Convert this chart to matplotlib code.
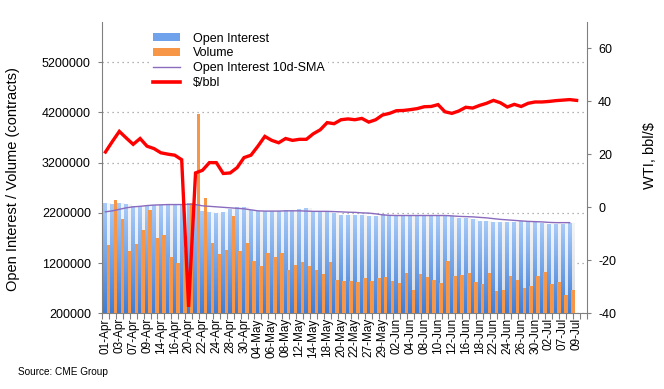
import numpy as np
import matplotlib
matplotlib.use("Agg")
import matplotlib.pyplot as plt
from matplotlib.patches import Patch
from matplotlib.lines import Line2D
from matplotlib.colors import LinearSegmentedColormap

plt.rcParams['font.family'] = ['Liberation Sans', 'DejaVu Sans']

dates = ["01-Apr", "02-Apr", "03-Apr", "06-Apr", "07-Apr", "08-Apr", "09-Apr", "13-Apr", "14-Apr", "15-Apr",
         "16-Apr", "17-Apr", "20-Apr", "21-Apr", "22-Apr", "23-Apr", "24-Apr", "27-Apr", "28-Apr", "29-Apr",
         "30-Apr", "01-May", "04-May", "05-May", "06-May", "07-May", "08-May", "11-May", "12-May", "13-May",
         "14-May", "15-May", "18-May", "19-May", "20-May", "21-May", "22-May", "26-May", "27-May", "28-May",
         "29-May", "01-Jun", "02-Jun", "03-Jun", "04-Jun", "05-Jun", "08-Jun", "09-Jun", "10-Jun", "11-Jun",
         "12-Jun", "15-Jun", "16-Jun", "17-Jun", "18-Jun", "19-Jun", "22-Jun", "23-Jun", "24-Jun", "25-Jun",
         "26-Jun", "29-Jun", "30-Jun", "01-Jul", "02-Jul", "06-Jul", "07-Jul", "08-Jul", "09-Jul", "10-Jul"]

open_interest = [2380000, 2370000, 2380000, 2370000, 2330000, 2330000, 2340000, 2350000, 2350000, 2350000,
                 2350000, 2350000, 2380000, 2360000, 2220000, 2200000, 2190000, 2200000, 2270000, 2300000,
                 2300000, 2250000, 2230000, 2230000, 2230000, 2230000, 2250000, 2250000, 2270000, 2280000,
                 2230000, 2230000, 2210000, 2180000, 2150000, 2150000, 2150000, 2150000, 2130000, 2130000,
                 2160000, 2130000, 2130000, 2130000, 2130000, 2130000, 2130000, 2130000, 2130000, 2130000,
                 2130000, 2080000, 2080000, 2070000, 2030000, 2030000, 2010000, 2010000, 2010000, 2010000,
                 2030000, 2010000, 2010000, 1990000, 1970000, 1970000, 1970000, 1990000]

volume = [1567000, 2447000, 2087000, 1447000, 1587000, 1867000, 2247000, 1707000, 1767000, 1327000,
          1193000, 1467000, 2400000, 4160000, 2487000, 1607000, 1387000, 1467000, 2147000, 1447000,
          1607000, 1247000, 1147000, 1407000, 1327000, 1407000, 1067000, 1167000, 1227000, 1147000,
          1067000, 987000, 1227000, 867000, 847000, 847000, 827000, 907000, 847000, 907000,
          927000, 847000, 807000, 1007000, 667000, 987000, 927000, 867000, 807000, 1247000,
          947000, 967000, 1007000, 827000, 787000, 1007000, 647000, 667000, 947000, 867000,
          707000, 747000, 947000, 1027000, 787000, 827000, 567000, 667000]

oi_sma10 = [2220000, 2240000, 2270000, 2300000, 2320000, 2330000, 2345000, 2355000, 2360000, 2365000,
            2365000, 2365000, 2370000, 2365000, 2340000, 2330000, 2320000, 2310000, 2300000, 2290000,
            2280000, 2260000, 2240000, 2235000, 2235000, 2235000, 2240000, 2240000, 2240000, 2235000,
            2230000, 2230000, 2230000, 2225000, 2220000, 2213000, 2210000, 2200000, 2195000, 2180000,
            2160000, 2150000, 2147000, 2147000, 2147000, 2147000, 2147000, 2147000, 2147000, 2147000,
            2140000, 2130000, 2125000, 2120000, 2110000, 2100000, 2085000, 2070000, 2060000, 2050000,
            2040000, 2030000, 2025000, 2020000, 2010000, 2005000, 2005000, 2005000]

wti = [20.9, 24.9, 28.7, 26.2, 23.8, 26.0, 23.1, 22.2, 20.6, 20.1,
       19.7, 18.0, -37.6, 13.0, 14.0, 16.9, 16.9, 12.8, 13.0, 15.0,
       18.8, 19.7, 23.1, 26.8, 25.3, 24.4, 26.0, 25.3, 25.7, 25.7,
       27.8, 29.3, 32.0, 31.6, 33.1, 33.4, 33.1, 33.6, 32.2, 33.1,
       34.9, 35.5, 36.5, 36.6, 36.9, 37.3, 38.0, 38.1, 38.8, 36.1,
       35.5, 36.4, 37.8, 37.5, 38.5, 39.3, 40.4, 39.5, 37.9, 38.9,
       38.1, 39.3, 39.8, 39.8, 40.0, 40.3, 40.5, 40.7, 40.4]

left_ticks = [200000, 1200000, 2200000, 3200000, 4200000, 5200000]
right_ticks = [-40, -20, 0, 20, 40, 60]

fig = plt.figure(figsize=(6.64, 3.89), dpi=100)
ax = fig.add_axes([102 / 664, 1 - 313.3 / 389, 485 / 664, 291.3 / 389])

n = len(dates)
x = np.arange(n)
ymin, ymax = 200000, 6000000

blue_cmap = LinearSegmentedColormap.from_list('blue', ['#3F7DD6', '#A8CBF8'])
grey_cmap = LinearSegmentedColormap.from_list('grey', ['#D3D7DD', '#F4F5F7'])
grad = np.linspace(0, 1, 128).reshape(-1, 1)

bw = 0.5
for i, v in enumerate(open_interest):
    ax.imshow(grad, extent=(i + 0.2, i + 0.7, ymin, v), origin='lower', aspect='auto',
              cmap=grey_cmap, zorder=1.5, interpolation='bilinear')
    ax.imshow(grad, extent=(i - 0.3, i + 0.2, ymin, v), origin='lower', aspect='auto',
              cmap=blue_cmap, zorder=2, interpolation='bilinear')

ax.bar(x[:len(volume)] + 0.45, np.array(volume) - ymin, bottom=ymin, width=bw,
       color='#F79646', zorder=3, linewidth=0)
ax.plot(x[:len(oi_sma10)], oi_sma10, color='#8A6BBE', lw=1.0, zorder=4)

ax.set_xlim(-0.5, n - 0.5)
ax.set_ylim(ymin, ymax)
ax.set_yticks(left_ticks)
ax.set_yticklabels([str(t) for t in left_ticks], fontsize=9)
ax.yaxis.grid(True, linestyle=(0, (1, 3)), color='#9A9A9A', lw=0.9)
ax.set_axisbelow(True)

ax.set_xticks(np.arange(-0.5, n, 1.0))
ax.set_xticklabels([])
ax.set_xticks(x[::2], labels=dates[::2], minor=True)
ax.tick_params(axis='x', which='major', length=4, color='#808080', direction='out')
ax.tick_params(axis='x', which='minor', length=0, pad=3.5, labelsize=8.5, labelrotation=90)
ax.tick_params(axis='y', length=3, color='#808080', pad=5)

for s in ['top', 'right']:
    ax.spines[s].set_visible(False)
for s in ['left', 'bottom']:
    ax.spines[s].set_color('#808080')

ax.set_ylabel('Open Interest / Volume (contracts)', fontsize=10.5)
ax.yaxis.set_label_coords(-0.169, 0.46)

ax2 = ax.twinx()
ax2.plot(x[:len(wti)], wti, color='#FF0000', lw=2.4, zorder=5, solid_joinstyle='miter')
ax2.set_ylim(-40, 70)
ax2.set_yticks(right_ticks)
ax2.set_yticklabels([str(t) for t in right_ticks], fontsize=9)
ax2.tick_params(axis='y', length=3, color='#808080', pad=5)
for s in ['top', 'left', 'bottom']:
    ax2.spines[s].set_visible(False)
ax2.spines['right'].set_color('#808080')
ax2.set_ylabel('WTI, bbl/$', fontsize=10.5)
ax2.yaxis.set_label_coords(1.115, 0.543)

handles = [Patch(facecolor='#6FA2EA', edgecolor='none'),
           Patch(facecolor='#F79646', edgecolor='none'),
           Line2D([], [], color='#8A6BBE', lw=1.0),
           Line2D([], [], color='#FF0000', lw=2.6)]
labels = ['Open Interest', 'Volume', 'Open Interest 10d-SMA', '$/bbl']
leg = ax2.legend(handles, labels, loc='upper left', bbox_to_anchor=(149 / 664, 1 - 29 / 389),
                 bbox_transform=fig.transFigure, fontsize=9, frameon=True, facecolor='white',
                 edgecolor='none', framealpha=1, handlelength=2.2, handleheight=0.6,
                 handletextpad=1.0, labelspacing=0.22, borderpad=0.3, borderaxespad=0)

fig.text(18 / 664, 1 - 372 / 389, 'Source: CME Group', fontsize=7.2, va='center', ha='left')

fig.savefig('out.png', dpi=100)
